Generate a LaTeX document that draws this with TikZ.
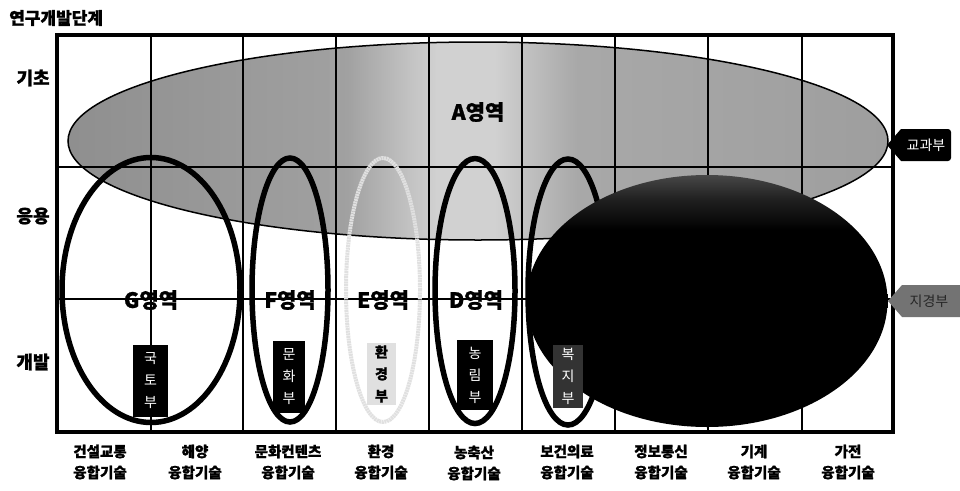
\documentclass[tikz,border=0pt]{standalone}
\usepackage{fontspec}
\setmainfont{Noto Sans CJK KR}[BoldFeatures={FakeBold=1.2}]
\usetikzlibrary{shapes.geometric}
\pgfdeclarehorizontalshading{ashade}{100bp}{color(0bp)=(black!44); color(25bp)=(black!44); color(42bp)=(black!37); color(47.5bp)=(black!18); color(51bp)=(black!18); color(56bp)=(black!34); color(75bp)=(black!38); color(100bp)=(black!38)}
\pgfdeclareverticalshading{bshade}{100bp}{color(0bp)=(black); color(25bp)=(black); color(64bp)=(black); color(70bp)=(black!88); color(75bp)=(black!72); color(100bp)=(black!72)}
\tikzset{
  gridline/.style={line width=1.1pt, black},
  zone/.style={ellipse, inner sep=0pt, outer sep=0pt, line width=5.5pt, draw=black},
  zonelabel/.style={font=\bfseries\fontsize{21}{23}\selectfont, inner sep=0pt},
  rowlab/.style={font=\bfseries\fontsize{18}{20}\selectfont, inner sep=0pt},
  collab/.style={font=\bfseries\fontsize{14.5}{21}\selectfont, align=center, inner sep=0pt},
  minbox/.style={fill=black, text=white, inner sep=0pt, font=\fontsize{14}{22}\selectfont, align=center},
  tagtext/.style={text=white, inner sep=0pt, font=\fontsize{14}{16}\selectfont}
}
\begin{document}
\begin{tikzpicture}[x=1pt,y=-1pt]
\useasboundingbox (0,0) rectangle (960,490);
% title and row labels
\node[rowlab, anchor=west, font=\bfseries\fontsize{17}{19}\selectfont] (title) at (9,18) {연구개발단계};
\node[rowlab] (r1) at (33,78) {기초};
\node[rowlab] (r2) at (33,216) {응용};
\node[rowlab] (r3) at (33,362) {개발};
% A zone
\node[ellipse, inner sep=0pt, minimum width=820pt, minimum height=198pt, shading=ashade, draw=black, line width=1.5pt] (A) at (478,141) {};
% grid
\foreach \x in {151,243,336,429,522,615,708,802} \draw[gridline] (\x,35) -- (\x,432);
\foreach \y in {167,299} \draw[gridline] (57,\y) -- (893,\y);
% zone C lies behind the black zone
\node[zone, minimum width=80pt, minimum height=266pt] (C) at (568,292) {};
% big black zone
\node[ellipse, inner sep=0pt, minimum width=361pt, minimum height=252pt, shading=bshade] (B) at (707,301) {};
% frame
\node[draw=black, line width=4pt, minimum width=836pt, minimum height=397pt, inner sep=0pt] (frame) at (475,233.5) {};
% zones G, F, E, D
\node[zone, minimum width=178pt, minimum height=265pt] (G) at (151,290) {};
\node[zone, minimum width=76pt, minimum height=264pt] (F) at (290,290) {};
\node[zone, draw=black!12, line width=4pt, dash pattern=on 2pt off 0.6pt, minimum width=74pt, minimum height=264pt] (E) at (383,290) {};
\node[zone, minimum width=80pt, minimum height=265pt] (D) at (475,291) {};
% zone labels
\node[zonelabel] (Alab) at (478,112) {A영역};
\node[zonelabel] (Glab) at (151,300) {G영역};
\node[zonelabel] (Flab) at (290,300) {F영역};
\node[zonelabel] (Elab) at (383,300) {E영역};
\node[zonelabel] (Dlab) at (476,300) {D영역};
% ministry boxes
\node[minbox, minimum width=35pt, minimum height=72pt] (m1) at (150.5,381) {국\\토\\부};
\node[minbox, minimum width=32pt, minimum height=72pt] (m2) at (289,377) {문\\화\\부};
\node[minbox, fill=black!12, text=black, font=\bfseries\fontsize{14}{22}\selectfont, minimum width=29pt, minimum height=62pt] (m3) at (381.5,374) {환\\경\\부};
\node[minbox, minimum width=36pt, minimum height=70pt] (m4) at (475,375) {농\\림\\부};
\node[minbox, fill=black!80, minimum width=30pt, minimum height=63pt] (m5) at (568,376.5) {복\\지\\부};
% right tags
\fill[black] (887,145) -- (901,129) -- (946,129) [rounded corners=3pt] -- (951,129) -- (951,161) [sharp corners] -- (946,161) -- (901,161) -- cycle;
\node[tagtext] (t1) at (926,145) {교과부};
\fill[black!55] (888,301) -- (902,285) -- (960,285) -- (960,317) -- (902,317) -- cycle;
\node[tagtext, text=black!85] (t2) at (929,301) {지경부};
% column labels
\node[collab] (c1) at (100,462) {건설교통\\융합기술};
\node[collab] (c2) at (195,462) {해양\\융합기술};
\node[collab] (c3) at (288,462) {문화컨텐츠\\융합기술};
\node[collab] (c4) at (381,462) {환경\\융합기술};
\node[collab] (c5) at (474,463) {농축산\\융합기술};
\node[collab] (c6) at (567,462) {보건의료\\융합기술};
\node[collab] (c7) at (661,462) {정보통신\\융합기술};
\node[collab] (c8) at (754,462) {기계\\융합기술};
\node[collab] (c9) at (848,462) {가전\\융합기술};
\end{tikzpicture}
\end{document}
